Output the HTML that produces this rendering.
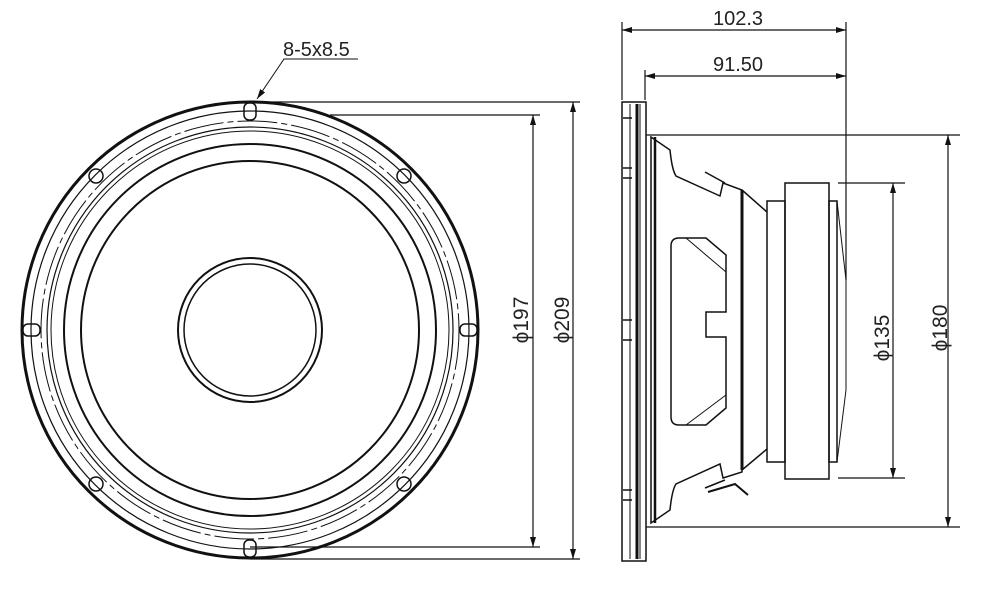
<!DOCTYPE html>
<html><head><style>body{margin:0;background:#fff}svg{display:block}text{font-family:"Liberation Sans",sans-serif;fill:#222}</style></head>
<body>
<svg width="1000" height="600" viewBox="0 0 1000 600" xmlns="http://www.w3.org/2000/svg">
<defs>
<marker id="a" viewBox="0 0 10 6" refX="10" refY="3" markerWidth="10" markerHeight="6" orient="auto-start-reverse" markerUnits="userSpaceOnUse"><path d="M0,0L10,3L0,6z" fill="#111"/></marker>
</defs>
<g fill="none" stroke="#111">
<circle cx="250" cy="330" r="228" stroke-width="3"/>
<circle cx="250" cy="330" r="219" stroke-width="1.2"/>
<circle cx="250" cy="330" r="209" stroke-width="1" stroke-dasharray="40 4 6 4"/>
<circle cx="250" cy="330" r="203" stroke-width="1.2"/>
<circle cx="250" cy="330" r="199" stroke-width="1"/>
<circle cx="250" cy="330" r="186" stroke-width="2"/>
<circle cx="250" cy="330" r="169" stroke-width="2"/>
<circle cx="250" cy="330" r="72" stroke-width="2"/>
<circle cx="250" cy="330" r="66" stroke-width="1.5"/>
<g stroke-width="1.5">
<rect x="244" y="103" width="12" height="17" rx="5"/>
<rect x="244" y="540" width="12" height="17" rx="5"/>
<rect x="23" y="324" width="17" height="12" rx="5"/>
<rect x="460" y="324" width="17" height="12" rx="5"/>
<circle cx="96" cy="176" r="7"/><circle cx="404" cy="176" r="7"/>
<circle cx="96" cy="484" r="7"/><circle cx="404" cy="484" r="7"/>
</g>
<path d="M358,59H284L257,99" stroke-width="1" marker-end="url(#a)"/>
<g stroke-width="1.2">
<path d="M258,102H580M330,115H540M250,547H540M250,559H580"/>
<path d="M533,115V547" marker-start="url(#a)" marker-end="url(#a)"/>
<path d="M573,102V559" marker-start="url(#a)" marker-end="url(#a)"/>
</g>
<g stroke-width="1.5">
<rect x="622" y="102" width="24" height="459"/>
<path d="M630,104V559M640,104V559" stroke-width="1"/>
<path d="M637,104V559" stroke-width="3"/>
<path d="M623,118H632M623,168H632M623,178H632M623,320H632M623,340H632M623,490H632M623,500H632" stroke-width="1.5"/>
<path d="M651,137L670,150Q672,170 676,176L720,196L723,183L742,190V472L723,478L720,464L676,484Q672,490 670,510L651,523Z"/>
<path d="M655,137V523" stroke-width="2.5"/>
<path d="M742,190L767,212M742,470L767,449"/>
<path d="M742,190V470" stroke-width="3"/>
<path d="M705,172L725,183M705,488L725,480"/>
<path d="M679,238H706L726,255V312H706V337H726V408L706,425H679Q671,425 671,417V246Q671,238 679,238Z"/>
<path d="M686,238L726,272M686,425L726,395" stroke-width="1"/>
<rect x="767" y="201" width="18" height="261"/>
<rect x="785" y="183" width="44" height="296"/>
<rect x="829" y="201" width="8" height="261"/>
<path d="M837,201L846,280V390L837,462" stroke-width="1"/>
<path d="M708,492L735,484L748,495" stroke-width="2"/>
</g>
<g stroke-width="1.2">
<path d="M646,135H960M646,527H960M838,183H905M838,478H905"/>
<path d="M622,22V100M645,70V100M846,22V280"/>
<path d="M622,30H846" marker-start="url(#a)" marker-end="url(#a)"/>
<path d="M645,76H846" marker-start="url(#a)" marker-end="url(#a)"/>
<path d="M893,183V478" marker-start="url(#a)" marker-end="url(#a)"/>
<path d="M948,135V527" marker-start="url(#a)" marker-end="url(#a)"/>
</g>
</g>
<text x="283" y="56" font-size="20">8-5x8.5</text>
<text x="738" y="25" font-size="20" text-anchor="middle">102.3</text>
<text x="738" y="71" font-size="20" text-anchor="middle">91.50</text>
<text transform="translate(528,320) rotate(-90)" font-size="21" text-anchor="middle">ϕ197</text>
<text transform="translate(569,320) rotate(-90)" font-size="21" text-anchor="middle">ϕ209</text>
<text transform="translate(889,338) rotate(-90)" font-size="21" text-anchor="middle">ϕ135</text>
<text transform="translate(947,328) rotate(-90)" font-size="21" text-anchor="middle">ϕ180</text>
</svg>
</body></html>
